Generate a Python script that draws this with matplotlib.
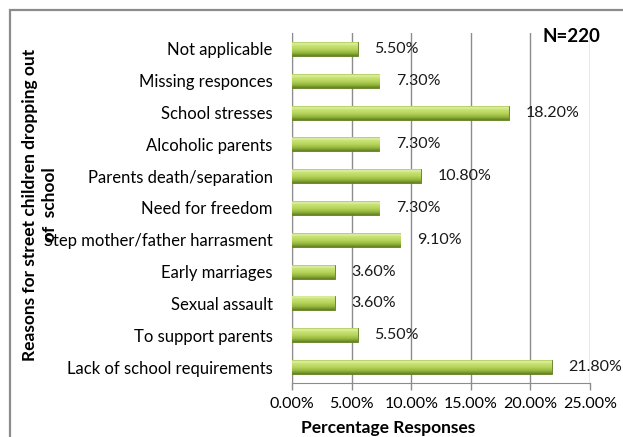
import numpy as np
import matplotlib
matplotlib.use("Agg")
import matplotlib.pyplot as plt
from matplotlib.colors import LinearSegmentedColormap
from matplotlib.patches import Rectangle

categories = [
    "Lack of school requirements",
    "To support parents",
    "Sexual assault",
    "Early marriages",
    "Step mother/father harrasment",
    "Need for freedom",
    "Parents death/separation",
    "Alcoholic parents",
    "School stresses",
    "Missing responces",
    "Not applicable",
]
values = [21.8, 5.5, 3.6, 3.6, 9.1, 7.3, 10.8, 7.3, 18.2, 7.3, 5.5]
xticks = [0, 5, 10, 15, 20, 25]

plt.rcParams["font.family"] = ["Lato", "DejaVu Sans"]

fig = plt.figure(figsize=(6.23, 4.37), dpi=100)
ax = fig.add_axes([292 / 623, 54 / 437, 298 / 623, 350 / 437])

# outer chart frame
fig.patches.append(Rectangle((10 / 623, -0.1), 1.2, (427 / 437) + 0.1,
                             transform=fig.transFigure, fill=False,
                             edgecolor="#8c8c8c", linewidth=1.6, zorder=0))

bar_h = 0.44
shade = LinearSegmentedColormap.from_list(
    "bevel",
    [(0.0, "#62801f"), (0.22, "#94b53a"), (0.5, "#b8d55e"),
     (0.75, "#c8e273"), (0.9, "#e2f1ac"), (1.0, "#a9c850")])
grad = np.linspace(0, 1, 64).reshape(-1, 1)

ypos = np.arange(len(categories))
bars = ax.barh(ypos, values, height=bar_h, color="#9bbb59",
               edgecolor="#5f7a22", linewidth=0.6, zorder=3)
for b, v, y in zip(bars, values, ypos):
    im = ax.imshow(grad, cmap=shade, aspect="auto", origin="lower",
                   extent=(0, v, y - bar_h / 2, y + bar_h / 2), zorder=3.5,
                   interpolation="bilinear")
    im.set_clip_path(b)
    ax.text(v + 1.4, y, f"{v:.2f}%", va="center", ha="left",
            fontsize=11.5, color="#1a1a1a", zorder=5)

ax.set_xlim(0, 25)
ax.set_ylim(-0.5, len(categories) - 0.5)
ax.set_xticks(xticks)
ax.set_xticklabels([f"{t:.2f}%" for t in xticks], fontsize=11.5)
ax.set_yticks(ypos)
ax.set_yticklabels(categories, fontsize=12)
ax.tick_params(axis="y", length=0, pad=14)
ax.tick_params(axis="x", length=5, width=1, color="#8c8c8c", pad=5)

ax.grid(axis="x", color="#8c8c8c", linewidth=1, zorder=0)
ax.set_axisbelow(True)
ax.spines["top"].set_visible(False)
ax.spines["right"].set_visible(False)
ax.spines["left"].set_color("#8c8c8c")
ax.spines["bottom"].set_color("#8c8c8c")

fig.text(388 / 623, 1 - 428 / 437, "Percentage Responses", ha="center",
         va="center", fontsize=12.5, fontweight="bold")
fig.text(40 / 623, 1 - 205 / 437,
         "Reasons for street children dropping out\nof  school",
         rotation=90, ha="center", va="center", fontsize=12.5,
         fontweight="bold", linespacing=1.25)
fig.text(571 / 623, 1 - 37 / 437, "N=220", ha="center", va="center",
         fontsize=13.5, fontweight="bold")

fig.savefig("out.png", dpi=100)
